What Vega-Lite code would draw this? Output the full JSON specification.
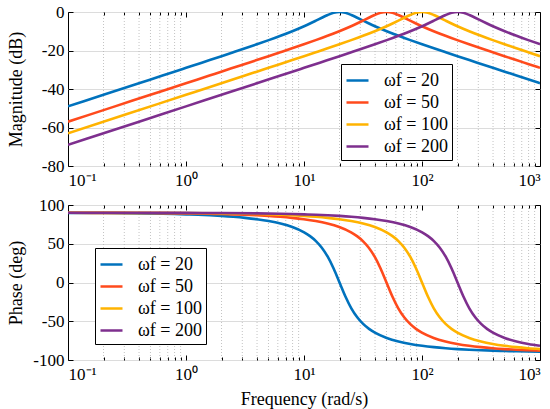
{
  "$schema": "https://vega.github.io/schema/vega-lite/v6.json",
  "description": "Bode plot of four band-pass filters: magnitude and phase against frequency.",
  "background": "white",
  "padding": {"left": 6, "top": 2, "right": 2, "bottom": 2},
  "config": {
    "font": "Liberation Serif",
    "view": {"stroke": "black", "strokeWidth": 1},
    "style": {
      "guide-label": {"font": "Liberation Serif", "fill": "black"},
      "guide-title": {"font": "Liberation Serif", "fill": "black"}
    },
    "axis": {
      "labelFont": "Liberation Serif",
      "titleFont": "Liberation Serif",
      "labelColor": "black",
      "titleColor": "black",
      "labelFontSize": 17,
      "titleFontSize": 18,
      "titleFontWeight": "normal",
      "domain": false,
      "tickColor": "black",
      "tickSize": -5,
      "labelPadding": 9,
      "labelOverlap": false,
      "gridColor": "#dcdcdc",
      "gridWidth": 1
    },
    "axisX": {"labelPadding": 11, "titlePadding": 6},
    "legend": {
      "labelFont": "Liberation Serif",
      "labelFontSize": 18,
      "labelColor": "black",
      "fillColor": "white",
      "strokeColor": "black",
      "padding": 4,
      "rowPadding": 0,
      "symbolType": "stroke",
      "symbolSize": 484,
      "symbolStrokeWidth": 2.5,
      "labelOffset": 14
    }
  },
  "datasets": {
    "bode": [
      {"w": "ωf = 20", "f": 0.1, "mag": -49.03, "ph": 89.8},
      {"w": "ωf = 20", "f": 0.2, "mag": -43.01, "ph": 89.59},
      {"w": "ωf = 20", "f": 0.399, "mag": -37.01, "ph": 89.19},
      {"w": "ωf = 20", "f": 0.6325, "mag": -33.0, "ph": 88.72},
      {"w": "ωf = 20", "f": 0.7962, "mag": -31.0, "ph": 88.38},
      {"w": "ωf = 20", "f": 1.0024, "mag": -28.99, "ph": 87.96},
      {"w": "ωf = 20", "f": 1.2619, "mag": -26.98, "ph": 87.44},
      {"w": "ωf = 20", "f": 1.5887, "mag": -24.97, "ph": 86.76},
      {"w": "ωf = 20", "f": 2, "mag": -22.95, "ph": 85.91},
      {"w": "ωf = 20", "f": 2.5179, "mag": -20.91, "ph": 84.83},
      {"w": "ωf = 20", "f": 3.1698, "mag": -18.85, "ph": 83.44},
      {"w": "ωf = 20", "f": 3.9905, "mag": -16.75, "ph": 81.64},
      {"w": "ωf = 20", "f": 5.0238, "mag": -14.6, "ph": 79.27},
      {"w": "ωf = 20", "f": 6.3246, "mag": -12.36, "ph": 76.05},
      {"w": "ωf = 20", "f": 7.9621, "mag": -9.97, "ph": 71.5},
      {"w": "ωf = 20", "f": 10.024, "mag": -7.38, "ph": 64.67},
      {"w": "ωf = 20", "f": 11.247, "mag": -5.97, "ph": 59.82},
      {"w": "ωf = 20", "f": 12.619, "mag": -4.5, "ph": 53.45},
      {"w": "ωf = 20", "f": 14.159, "mag": -3.0, "ph": 44.9},
      {"w": "ωf = 20", "f": 15.887, "mag": -1.56, "ph": 33.31},
      {"w": "ωf = 20", "f": 17.825, "mag": -0.44, "ph": 18.07},
      {"w": "ωf = 20", "f": 20, "mag": 0, "ph": 0},
      {"w": "ωf = 20", "f": 22.44, "mag": -0.44, "ph": -18.07},
      {"w": "ωf = 20", "f": 25.179, "mag": -1.56, "ph": -33.31},
      {"w": "ωf = 20", "f": 28.251, "mag": -3.0, "ph": -44.9},
      {"w": "ωf = 20", "f": 31.698, "mag": -4.5, "ph": -53.45},
      {"w": "ωf = 20", "f": 35.566, "mag": -5.97, "ph": -59.82},
      {"w": "ωf = 20", "f": 39.905, "mag": -7.38, "ph": -64.67},
      {"w": "ωf = 20", "f": 50.238, "mag": -9.97, "ph": -71.5},
      {"w": "ωf = 20", "f": 63.246, "mag": -12.36, "ph": -76.05},
      {"w": "ωf = 20", "f": 79.621, "mag": -14.6, "ph": -79.27},
      {"w": "ωf = 20", "f": 100.24, "mag": -16.75, "ph": -81.64},
      {"w": "ωf = 20", "f": 126.19, "mag": -18.85, "ph": -83.44},
      {"w": "ωf = 20", "f": 158.87, "mag": -20.91, "ph": -84.83},
      {"w": "ωf = 20", "f": 200, "mag": -22.95, "ph": -85.91},
      {"w": "ωf = 20", "f": 251.79, "mag": -24.97, "ph": -86.76},
      {"w": "ωf = 20", "f": 316.98, "mag": -26.98, "ph": -87.44},
      {"w": "ωf = 20", "f": 399.05, "mag": -28.99, "ph": -87.96},
      {"w": "ωf = 20", "f": 502.38, "mag": -31.0, "ph": -88.38},
      {"w": "ωf = 20", "f": 632.46, "mag": -33.0, "ph": -88.72},
      {"w": "ωf = 20", "f": 1000, "mag": -37.01, "ph": -89.19},
      {"w": "ωf = 50", "f": 0.1, "mag": -56.99, "ph": 89.92},
      {"w": "ωf = 50", "f": 0.25, "mag": -49.03, "ph": 89.8},
      {"w": "ωf = 50", "f": 0.5, "mag": -43.01, "ph": 89.59},
      {"w": "ωf = 50", "f": 0.9976, "mag": -37.01, "ph": 89.19},
      {"w": "ωf = 50", "f": 1.5811, "mag": -33.0, "ph": 88.72},
      {"w": "ωf = 50", "f": 1.9905, "mag": -31.0, "ph": 88.38},
      {"w": "ωf = 50", "f": 2.5059, "mag": -28.99, "ph": 87.96},
      {"w": "ωf = 50", "f": 3.1548, "mag": -26.98, "ph": 87.44},
      {"w": "ωf = 50", "f": 3.9716, "mag": -24.97, "ph": 86.76},
      {"w": "ωf = 50", "f": 5, "mag": -22.95, "ph": 85.91},
      {"w": "ωf = 50", "f": 6.2946, "mag": -20.91, "ph": 84.83},
      {"w": "ωf = 50", "f": 7.9245, "mag": -18.85, "ph": 83.44},
      {"w": "ωf = 50", "f": 9.9763, "mag": -16.75, "ph": 81.64},
      {"w": "ωf = 50", "f": 12.559, "mag": -14.6, "ph": 79.27},
      {"w": "ωf = 50", "f": 15.811, "mag": -12.36, "ph": 76.05},
      {"w": "ωf = 50", "f": 19.905, "mag": -9.97, "ph": 71.5},
      {"w": "ωf = 50", "f": 25.059, "mag": -7.38, "ph": 64.67},
      {"w": "ωf = 50", "f": 28.117, "mag": -5.97, "ph": 59.82},
      {"w": "ωf = 50", "f": 31.548, "mag": -4.5, "ph": 53.45},
      {"w": "ωf = 50", "f": 35.397, "mag": -3.0, "ph": 44.9},
      {"w": "ωf = 50", "f": 39.716, "mag": -1.56, "ph": 33.31},
      {"w": "ωf = 50", "f": 44.563, "mag": -0.44, "ph": 18.07},
      {"w": "ωf = 50", "f": 50, "mag": 0, "ph": 0},
      {"w": "ωf = 50", "f": 56.101, "mag": -0.44, "ph": -18.07},
      {"w": "ωf = 50", "f": 62.946, "mag": -1.56, "ph": -33.31},
      {"w": "ωf = 50", "f": 70.627, "mag": -3.0, "ph": -44.9},
      {"w": "ωf = 50", "f": 79.245, "mag": -4.5, "ph": -53.45},
      {"w": "ωf = 50", "f": 88.914, "mag": -5.97, "ph": -59.82},
      {"w": "ωf = 50", "f": 99.763, "mag": -7.38, "ph": -64.67},
      {"w": "ωf = 50", "f": 125.59, "mag": -9.97, "ph": -71.5},
      {"w": "ωf = 50", "f": 158.11, "mag": -12.36, "ph": -76.05},
      {"w": "ωf = 50", "f": 199.05, "mag": -14.6, "ph": -79.27},
      {"w": "ωf = 50", "f": 250.59, "mag": -16.75, "ph": -81.64},
      {"w": "ωf = 50", "f": 315.48, "mag": -18.85, "ph": -83.44},
      {"w": "ωf = 50", "f": 397.16, "mag": -20.91, "ph": -84.83},
      {"w": "ωf = 50", "f": 500, "mag": -22.95, "ph": -85.91},
      {"w": "ωf = 50", "f": 629.46, "mag": -24.97, "ph": -86.76},
      {"w": "ωf = 50", "f": 792.45, "mag": -26.98, "ph": -87.44},
      {"w": "ωf = 50", "f": 1000, "mag": -29.01, "ph": -87.97},
      {"w": "ωf = 100", "f": 0.1, "mag": -63.01, "ph": 89.96},
      {"w": "ωf = 100", "f": 0.3162, "mag": -53.01, "ph": 89.87},
      {"w": "ωf = 100", "f": 1, "mag": -43.01, "ph": 89.59},
      {"w": "ωf = 100", "f": 1.9953, "mag": -37.01, "ph": 89.19},
      {"w": "ωf = 100", "f": 3.1623, "mag": -33.0, "ph": 88.72},
      {"w": "ωf = 100", "f": 3.9811, "mag": -31.0, "ph": 88.38},
      {"w": "ωf = 100", "f": 5.0119, "mag": -28.99, "ph": 87.96},
      {"w": "ωf = 100", "f": 6.3096, "mag": -26.98, "ph": 87.44},
      {"w": "ωf = 100", "f": 7.9433, "mag": -24.97, "ph": 86.76},
      {"w": "ωf = 100", "f": 10, "mag": -22.95, "ph": 85.91},
      {"w": "ωf = 100", "f": 12.589, "mag": -20.91, "ph": 84.83},
      {"w": "ωf = 100", "f": 15.849, "mag": -18.85, "ph": 83.44},
      {"w": "ωf = 100", "f": 19.953, "mag": -16.75, "ph": 81.64},
      {"w": "ωf = 100", "f": 25.119, "mag": -14.6, "ph": 79.27},
      {"w": "ωf = 100", "f": 31.623, "mag": -12.36, "ph": 76.05},
      {"w": "ωf = 100", "f": 39.811, "mag": -9.97, "ph": 71.5},
      {"w": "ωf = 100", "f": 50.119, "mag": -7.38, "ph": 64.67},
      {"w": "ωf = 100", "f": 56.234, "mag": -5.97, "ph": 59.82},
      {"w": "ωf = 100", "f": 63.096, "mag": -4.5, "ph": 53.45},
      {"w": "ωf = 100", "f": 70.795, "mag": -3.0, "ph": 44.9},
      {"w": "ωf = 100", "f": 79.433, "mag": -1.56, "ph": 33.31},
      {"w": "ωf = 100", "f": 89.125, "mag": -0.44, "ph": 18.07},
      {"w": "ωf = 100", "f": 100, "mag": 0, "ph": 0},
      {"w": "ωf = 100", "f": 112.2, "mag": -0.44, "ph": -18.07},
      {"w": "ωf = 100", "f": 125.89, "mag": -1.56, "ph": -33.31},
      {"w": "ωf = 100", "f": 141.25, "mag": -3.0, "ph": -44.9},
      {"w": "ωf = 100", "f": 158.49, "mag": -4.5, "ph": -53.45},
      {"w": "ωf = 100", "f": 177.83, "mag": -5.97, "ph": -59.82},
      {"w": "ωf = 100", "f": 199.53, "mag": -7.38, "ph": -64.67},
      {"w": "ωf = 100", "f": 251.19, "mag": -9.97, "ph": -71.5},
      {"w": "ωf = 100", "f": 316.23, "mag": -12.36, "ph": -76.05},
      {"w": "ωf = 100", "f": 398.11, "mag": -14.6, "ph": -79.27},
      {"w": "ωf = 100", "f": 501.19, "mag": -16.75, "ph": -81.64},
      {"w": "ωf = 100", "f": 630.96, "mag": -18.85, "ph": -83.44},
      {"w": "ωf = 100", "f": 794.33, "mag": -20.91, "ph": -84.83},
      {"w": "ωf = 100", "f": 1000, "mag": -22.95, "ph": -85.91},
      {"w": "ωf = 200", "f": 0.1, "mag": -69.03, "ph": 89.98},
      {"w": "ωf = 200", "f": 0.2, "mag": -63.01, "ph": 89.96},
      {"w": "ωf = 200", "f": 0.4, "mag": -56.99, "ph": 89.92},
      {"w": "ωf = 200", "f": 1, "mag": -49.03, "ph": 89.8},
      {"w": "ωf = 200", "f": 2, "mag": -43.01, "ph": 89.59},
      {"w": "ωf = 200", "f": 3.9905, "mag": -37.01, "ph": 89.19},
      {"w": "ωf = 200", "f": 6.3246, "mag": -33.0, "ph": 88.72},
      {"w": "ωf = 200", "f": 7.9621, "mag": -31.0, "ph": 88.38},
      {"w": "ωf = 200", "f": 10.024, "mag": -28.99, "ph": 87.96},
      {"w": "ωf = 200", "f": 12.619, "mag": -26.98, "ph": 87.44},
      {"w": "ωf = 200", "f": 15.887, "mag": -24.97, "ph": 86.76},
      {"w": "ωf = 200", "f": 20, "mag": -22.95, "ph": 85.91},
      {"w": "ωf = 200", "f": 25.179, "mag": -20.91, "ph": 84.83},
      {"w": "ωf = 200", "f": 31.698, "mag": -18.85, "ph": 83.44},
      {"w": "ωf = 200", "f": 39.905, "mag": -16.75, "ph": 81.64},
      {"w": "ωf = 200", "f": 50.238, "mag": -14.6, "ph": 79.27},
      {"w": "ωf = 200", "f": 63.246, "mag": -12.36, "ph": 76.05},
      {"w": "ωf = 200", "f": 79.621, "mag": -9.97, "ph": 71.5},
      {"w": "ωf = 200", "f": 100.24, "mag": -7.38, "ph": 64.67},
      {"w": "ωf = 200", "f": 112.47, "mag": -5.97, "ph": 59.82},
      {"w": "ωf = 200", "f": 126.19, "mag": -4.5, "ph": 53.45},
      {"w": "ωf = 200", "f": 141.59, "mag": -3.0, "ph": 44.9},
      {"w": "ωf = 200", "f": 158.87, "mag": -1.56, "ph": 33.31},
      {"w": "ωf = 200", "f": 178.25, "mag": -0.44, "ph": 18.07},
      {"w": "ωf = 200", "f": 200, "mag": 0, "ph": 0},
      {"w": "ωf = 200", "f": 224.4, "mag": -0.44, "ph": -18.07},
      {"w": "ωf = 200", "f": 251.79, "mag": -1.56, "ph": -33.31},
      {"w": "ωf = 200", "f": 282.51, "mag": -3.0, "ph": -44.9},
      {"w": "ωf = 200", "f": 316.98, "mag": -4.5, "ph": -53.45},
      {"w": "ωf = 200", "f": 355.66, "mag": -5.97, "ph": -59.82},
      {"w": "ωf = 200", "f": 399.05, "mag": -7.38, "ph": -64.67},
      {"w": "ωf = 200", "f": 502.38, "mag": -9.97, "ph": -71.5},
      {"w": "ωf = 200", "f": 632.46, "mag": -12.36, "ph": -76.05},
      {"w": "ωf = 200", "f": 796.21, "mag": -14.6, "ph": -79.27},
      {"w": "ωf = 200", "f": 1000, "mag": -16.73, "ph": -81.62}
    ],
    "minor": [
      {"f": 0.2}, {"f": 0.3}, {"f": 0.4}, {"f": 0.5}, {"f": 0.6}, {"f": 0.7}, {"f": 0.8}, {"f": 0.9},
      {"f": 2}, {"f": 3}, {"f": 4}, {"f": 5}, {"f": 6}, {"f": 7}, {"f": 8}, {"f": 9},
      {"f": 20}, {"f": 30}, {"f": 40}, {"f": 50}, {"f": 60}, {"f": 70}, {"f": 80}, {"f": 90},
      {"f": 200}, {"f": 300}, {"f": 400}, {"f": 500}, {"f": 600}, {"f": 700}, {"f": 800}, {"f": 900}
    ]
  },
  "spacing": 4,
  "resolve": {"legend": {"color": "independent"}},
  "vconcat": [
    {
      "width": 472,
      "height": 154,
      "resolve": {"axis": {"x": "independent", "y": "independent"}},
      "layer": [
        {
          "data": {"name": "minor"},
          "mark": {"type": "rule", "color": "#b4b4b4", "strokeWidth": 0.8, "strokeDash": [1, 2]},
          "encoding": {
            "x": {
              "field": "f", "type": "quantitative",
              "scale": {"type": "log", "domain": [0.1, 1000], "nice": false},
              "axis": {
                "orient": "top", "title": null, "labels": false, "grid": false,
                "values": [0.1, 0.2, 0.3, 0.4, 0.5, 0.6, 0.7, 0.8, 0.9, 1, 2, 3, 4, 5, 6, 7, 8, 9, 10, 20, 30, 40, 50, 60, 70, 80, 90, 100, 200, 300, 400, 500, 600, 700, 800, 900, 1000],
                "tickSize": {"condition": {"test": "indexof([0.1, 1, 10, 100, 1000], datum.value) < 0", "value": -3}, "value": -5}
              }
            }
          }
        },
        {
          "data": {"name": "bode"},
          "mark": {"type": "line", "strokeWidth": 2.6, "interpolate": "monotone", "clip": true},
          "encoding": {
            "x": {
              "field": "f", "type": "quantitative",
              "scale": {"type": "log", "domain": [0.1, 1000], "nice": false},
              "axis": {
                "title": null,
                "values": [0.1, 0.2, 0.3, 0.4, 0.5, 0.6, 0.7, 0.8, 0.9, 1, 2, 3, 4, 5, 6, 7, 8, 9, 10, 20, 30, 40, 50, 60, 70, 80, 90, 100, 200, 300, 400, 500, 600, 700, 800, 900, 1000],
                "labelFont": "Liberation Serif",
                "labelExpr": "datum.value == 0.1 ? '10⁻¹' : datum.value == 1 ? '10⁰' : datum.value == 10 ? '10¹' : datum.value == 100 ? '10²' : datum.value == 1000 ? '10³' : ''",
                "tickSize": {"condition": {"test": "indexof([0.1, 1, 10, 100, 1000], datum.value) < 0", "value": -3}, "value": -5},
                "gridOpacity": {"condition": {"test": "indexof([0.1, 1, 10, 100, 1000], datum.value) < 0", "value": 0}, "value": 1}
              }
            },
            "y": {
              "field": "mag", "type": "quantitative",
              "scale": {"domain": [-80, 0], "nice": false},
              "axis": {
                "title": "Magnitude (dB)",
                "values": [-80, -60, -40, -20, 0],
                "labelFont": "Liberation Serif",
                "labelExpr": "toString(datum.value)",
                "titleX": -43
              }
            },
            "color": {
              "field": "w", "type": "nominal",
              "scale": {
                "domain": ["ωf = 20", "ωf = 50", "ωf = 100", "ωf = 200"],
                "range": ["#0072BD", "#FF4A1C", "#FFB300", "#7E2F8E"]
              },
              "legend": {"title": null, "orient": "none", "legendX": 273, "legendY": 52, "labelFont": "Liberation Serif"}
            }
          }
        },
        {
          "data": {"name": "bode"},
          "mark": {"type": "point", "opacity": 0},
          "encoding": {
            "x": {"field": "f", "type": "quantitative", "scale": {"type": "log", "domain": [0.1, 1000], "nice": false}, "axis": null},
            "y": {
              "field": "mag", "type": "quantitative",
              "scale": {"domain": [-80, 0], "nice": false},
              "axis": {"orient": "right", "title": null, "labels": false, "grid": false, "values": [-80, -60, -40, -20, 0]}
            }
          }
        }
      ]
    },
    {
      "width": 472,
      "height": 155,
      "resolve": {"axis": {"x": "independent", "y": "independent"}},
      "layer": [
        {
          "data": {"name": "minor"},
          "mark": {"type": "rule", "color": "#b4b4b4", "strokeWidth": 0.8, "strokeDash": [1, 2]},
          "encoding": {
            "x": {
              "field": "f", "type": "quantitative",
              "scale": {"type": "log", "domain": [0.1, 1000], "nice": false},
              "axis": {
                "orient": "top", "title": null, "labels": false, "grid": false,
                "values": [0.1, 0.2, 0.3, 0.4, 0.5, 0.6, 0.7, 0.8, 0.9, 1, 2, 3, 4, 5, 6, 7, 8, 9, 10, 20, 30, 40, 50, 60, 70, 80, 90, 100, 200, 300, 400, 500, 600, 700, 800, 900, 1000],
                "tickSize": {"condition": {"test": "indexof([0.1, 1, 10, 100, 1000], datum.value) < 0", "value": -3}, "value": -5}
              }
            }
          }
        },
        {
          "data": {"name": "bode"},
          "mark": {"type": "line", "strokeWidth": 2.6, "interpolate": "monotone", "clip": true},
          "encoding": {
            "x": {
              "field": "f", "type": "quantitative",
              "scale": {"type": "log", "domain": [0.1, 1000], "nice": false},
              "axis": {
                "title": "Frequency (rad/s)",
                "values": [0.1, 0.2, 0.3, 0.4, 0.5, 0.6, 0.7, 0.8, 0.9, 1, 2, 3, 4, 5, 6, 7, 8, 9, 10, 20, 30, 40, 50, 60, 70, 80, 90, 100, 200, 300, 400, 500, 600, 700, 800, 900, 1000],
                "labelFont": "Liberation Serif",
                "labelExpr": "datum.value == 0.1 ? '10⁻¹' : datum.value == 1 ? '10⁰' : datum.value == 10 ? '10¹' : datum.value == 100 ? '10²' : datum.value == 1000 ? '10³' : ''",
                "tickSize": {"condition": {"test": "indexof([0.1, 1, 10, 100, 1000], datum.value) < 0", "value": -3}, "value": -5},
                "gridOpacity": {"condition": {"test": "indexof([0.1, 1, 10, 100, 1000], datum.value) < 0", "value": 0}, "value": 1}
              }
            },
            "y": {
              "field": "ph", "type": "quantitative",
              "scale": {"domain": [-100, 100], "nice": false},
              "axis": {
                "title": "Phase (deg)",
                "values": [-100, -50, 0, 50, 100],
                "labelFont": "Liberation Serif",
                "labelExpr": "toString(datum.value)",
                "titleX": -43
              }
            },
            "color": {
              "field": "w", "type": "nominal",
              "scale": {
                "domain": ["ωf = 20", "ωf = 50", "ωf = 100", "ωf = 200"],
                "range": ["#0072BD", "#FF4A1C", "#FFB300", "#7E2F8E"]
              },
              "legend": {"title": null, "orient": "none", "legendX": 27, "legendY": 43, "labelFont": "Liberation Serif"}
            }
          }
        },
        {
          "data": {"name": "bode"},
          "mark": {"type": "point", "opacity": 0},
          "encoding": {
            "x": {"field": "f", "type": "quantitative", "scale": {"type": "log", "domain": [0.1, 1000], "nice": false}, "axis": null},
            "y": {
              "field": "ph", "type": "quantitative",
              "scale": {"domain": [-100, 100], "nice": false},
              "axis": {"orient": "right", "title": null, "labels": false, "grid": false, "values": [-100, -50, 0, 50, 100]}
            }
          }
        }
      ]
    }
  ]
}
